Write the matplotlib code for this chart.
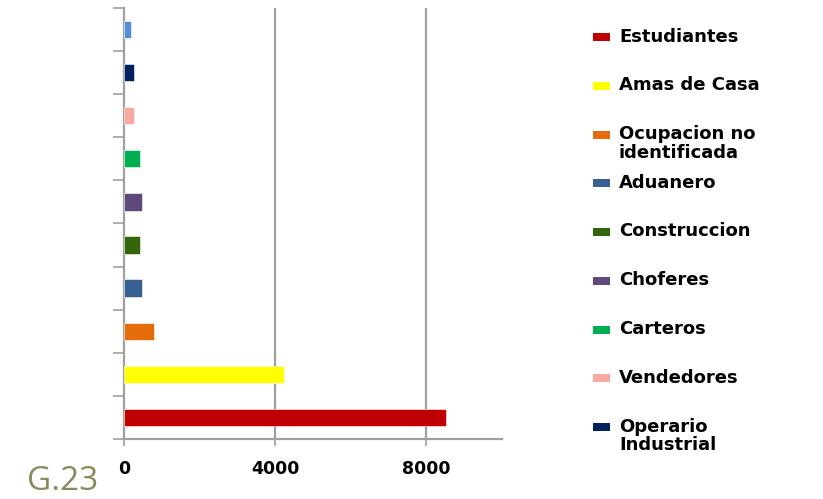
import numpy as np
import matplotlib
matplotlib.use("Agg")
from matplotlib import pyplot as plt
from matplotlib.patches import Rectangle

# bottom to top, as drawn
categories = ["Estudiantes", "Amas de Casa", "Ocupacion no\nidentificada", "Aduanero",
              "Construccion", "Choferes", "Carteros", "Vendedores", "Operario\nIndustrial",
              "(sin etiqueta)"]
values = [8530, 4235, 800, 480, 428, 480, 428, 267, 267, 187]
colors = ["#C00000", "#FFFF00", "#E46C0A", "#376092", "#35650A",
          "#604A7B", "#00B050", "#F9A8A0", "#002060", "#558ED5"]
in_legend = [True] * 9 + [False]
xticks = [0, 4000, 8000]

W, H = 823, 499
fig = plt.figure(figsize=(W / 100, H / 100), dpi=100)
ax = fig.add_axes([0.1507, 0.1202, 0.459, 0.864])

pos = np.arange(len(categories))
ax.barh(pos, values, height=0.4, color=colors, edgecolor="white", linewidth=0.4, zorder=3)

ax.set_xlim(0, 10000)
ax.set_ylim(-0.5, len(categories) - 0.5)

ax.set_xticks(xticks)
ax.set_xticklabels([str(t) for t in xticks], fontweight="bold", fontsize=12.5)
ax.set_yticks(np.arange(-0.5, len(categories), 1.0))
ax.set_yticklabels([])
ax.tick_params(axis="x", direction="out", length=5, width=1.2, color="#A0A0A0", pad=10)
ax.tick_params(axis="y", direction="out", length=8, width=1.2, color="#A0A0A0")

for t in xticks[1:]:
    ax.axvline(t, color="#A0A0A0", linewidth=1.6, zorder=1)

for side in ["top", "right"]:
    ax.spines[side].set_visible(False)
for side in ["left", "bottom"]:
    ax.spines[side].set_color("#A0A0A0")
    ax.spines[side].set_linewidth(1.6)

# legend: fixed slots, first line of each label lined up with its swatch
row0, step = 37, 48.75
k = 0
for cat, col, show in zip(categories, colors, in_legend):
    if not show:
        continue
    yc = row0 + step * k
    fig.patches.append(Rectangle((593 / W, 1 - (yc + 4) / H), 17 / W, 8 / H,
                                 transform=fig.transFigure, facecolor=col,
                                 edgecolor="none"))
    fig.text(619 / W, 1 - (yc - 9.5) / H, cat, fontsize=13, fontweight="bold",
             va="top", ha="left", linespacing=1.05)
    k += 1

fig.text(0.033, 0.018, "G.23", color="#8C8A5C", fontsize=24, family="Open Sans")

fig.savefig("out.png", dpi=100)
